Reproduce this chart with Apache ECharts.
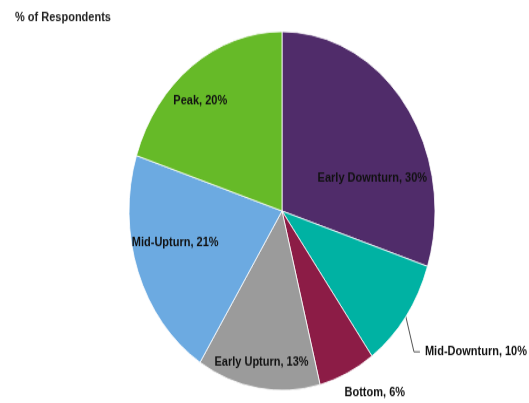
<!DOCTYPE html>
<html><head><meta charset="utf-8">
<script src="https://cdn.jsdelivr.net/npm/echarts@6/dist/echarts.min.js"></script>
<style>
html,body{margin:0;padding:0;background:#fff;overflow:hidden}
#wrap{width:529px;height:403px;overflow:hidden;position:relative;background:#fff}
#c{width:529px;height:344px;transform:scaleY(1.172);transform-origin:0 0}
</style>
</head><body><div id="wrap"><div id="c"></div></div>
<script>
const categories = ['Early Downturn', 'Mid-Downturn', 'Bottom', 'Early Upturn', 'Mid-Upturn', 'Peak'];
const values = [30, 10, 6, 13, 21, 20];
const titleText = '% of Respondents';

const colors = ['#502c6a', '#00b2a3', '#8c1c46', '#9b9b9b', '#6caae1', '#66ba28'];
const labelPlacement = ['inside', 'outside', 'outside', 'inside', 'inside', 'inside'];
const labelShift = [[26, 19], [-6, 18.5], [-14, 2.5], [-8, 50], [-32, 0], [-35, -30]];
const lineLens = [[0, 0], [20, 4], [15, 0], [0, 0], [0, 0], [0, 0]];

const chart = echarts.init(document.getElementById('c'), null, {renderer: 'canvas'});
const data = categories.map((name, i) => ({
  name: name,
  value: values[i],
  itemStyle: {color: colors[i]},
  label: {position: labelPlacement[i]},
  labelLine: {show: i === 1, length: lineLens[i][0], length2: lineLens[i][1],
    lineStyle: {color: '#555', width: 1}}
}));

chart.setOption({
  animation: false,
  backgroundColor: '#fff',
  title: {
    text: titleText, left: 10, top: 4,
    textStyle: {fontFamily: 'Liberation Sans, Arial, sans-serif', fontSize: 11, fontWeight: 'bold', color: '#222'}
  },
  series: [{
    type: 'pie',
    center: [282, 180],
    radius: 153,
    startAngle: 90,
    clockwise: true,
    avoidLabelOverlap: false,
    itemStyle: {borderColor: '#ffffff', borderWidth: 0.8},
    label: {
      formatter: '{b}, {c}%',
      fontFamily: 'Liberation Sans, Arial, sans-serif',
      fontSize: 11, fontWeight: 'bold', color: '#111'
    },
    emphasis: {disabled: true},
    labelLayout: function (p) {
      const s = labelShift[p.dataIndex];
      const out = {dx: s[0], dy: s[1]};
      if (p.labelLinePoints && p.dataIndex === 1) {
        const pts = p.labelLinePoints;
        out.labelLinePoints = [pts[0], [pts[1][0] + s[0] - 2, pts[1][1] + s[1]], [pts[2][0] + s[0], pts[2][1] + s[1]]];
      }
      return out;
    },
    data: data
  }]
});
</script>
</body></html>
